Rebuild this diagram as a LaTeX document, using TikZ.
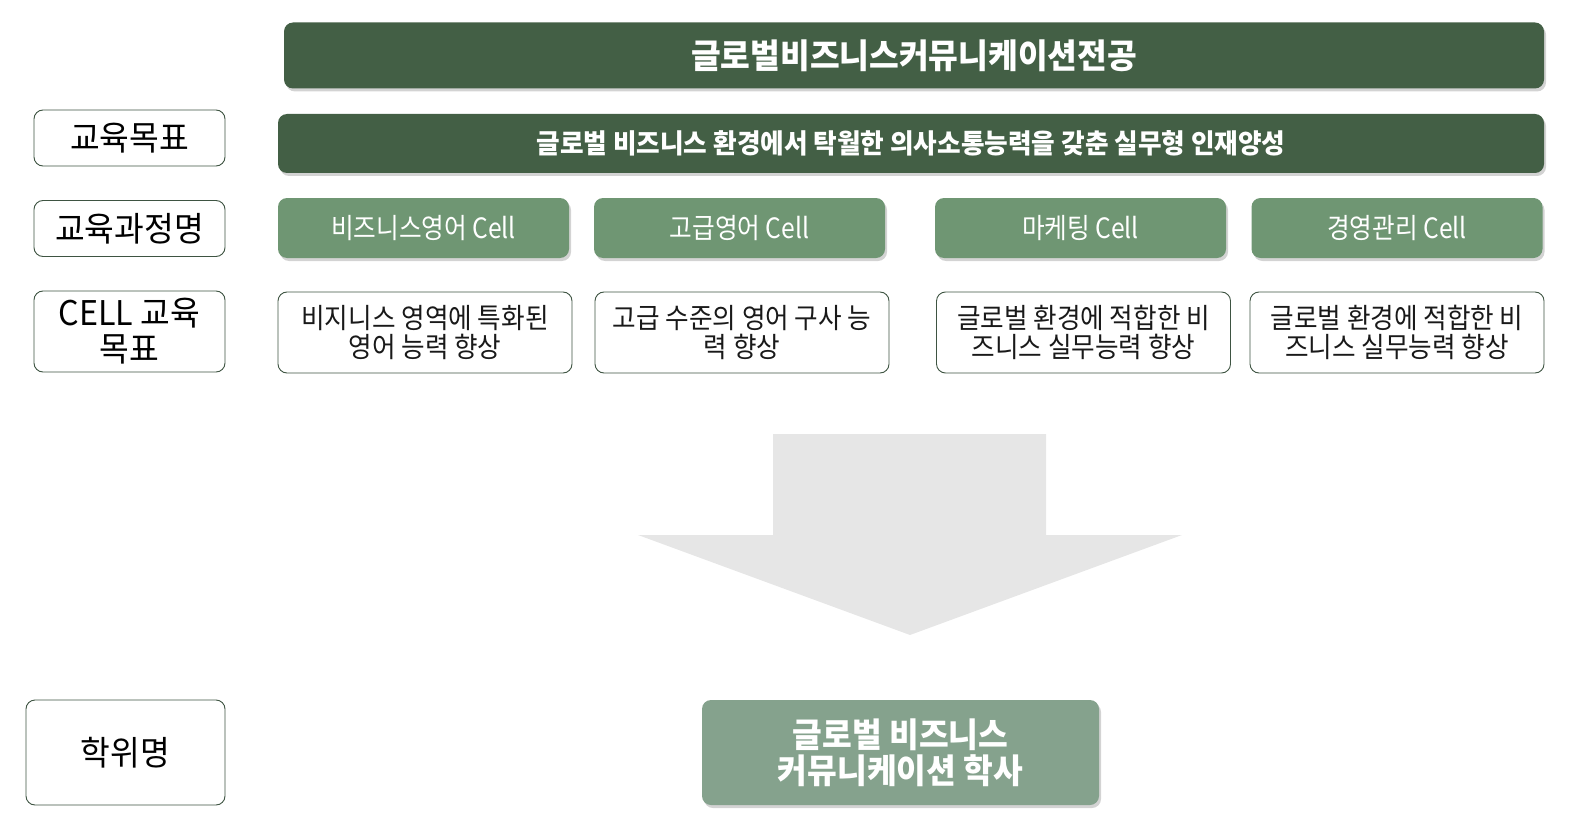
\documentclass[tikz,border=0pt]{standalone}
\usepackage{fontspec}
\newfontfamily\krlab{Noto Sans CJK KR}[FakeStretch=0.95]
\newfontfamily\krcell{Noto Sans CJK KR}[FakeStretch=0.88]
\newfontfamily\krdesc{Noto Sans CJK KR}[FakeStretch=0.915]
\newfontfamily\krb{Noto Sans CJK KR}[FakeStretch=0.95]
\usetikzlibrary{shadows}
\definecolor{darkg}{HTML}{435F45}
\definecolor{cellg}{HTML}{6F9673}
\definecolor{degg}{HTML}{85A28D}
\definecolor{edgeg}{HTML}{3E5442}
\definecolor{arrowg}{HTML}{E6E6E6}
\tikzset{
  base/.style={rounded corners=9pt, inner sep=0pt, align=center},
  shad/.style={drop shadow={shadow xshift=2pt, shadow yshift=-3pt, opacity=0.35}},
  labelbox/.style={base, draw=edgeg, line width=0.9pt, fill=white, text=black,
    minimum width=191pt, font=\krlab\fontsize{34}{36}\selectfont},
  darkbar/.style={base, shad, fill=darkg, text=white},
  cellbox/.style={base, shad, fill=cellg, text=white, minimum width=291pt, minimum height=60pt,
    font=\krcell\fontsize{28}{30}\selectfont},
  descbox/.style={base, draw=edgeg, line width=0.9pt, fill=white, text=black!90,
    minimum width=294pt, minimum height=81pt, font=\krdesc\fontsize{28}{29}\selectfont},
  degbox/.style={base, shad, fill=degg, text=white, minimum width=397pt, minimum height=105pt,
    font=\krb\bfseries\fontsize{34}{36}\selectfont},
}
\begin{document}
\begin{tikzpicture}[x=1pt,y=-1pt]
\useasboundingbox (0,0) rectangle (1591,840);
% block arrow
\fill[arrowg] (773,434) -- (1046,434) -- (1046,535) -- (1182,535) -- (910,635) -- (638,535) -- (773,535) -- cycle;
% title and goal bars
\node[darkbar, minimum width=1260pt, minimum height=66pt, font=\krb\bfseries\fontsize{34}{36}\selectfont] (title) at (914,55.5) {글로벌비즈니스커뮤니케이션전공};
\node[darkbar, minimum width=1266pt, minimum height=59pt, font=\krb\bfseries\fontsize{27}{30}\selectfont] (goal) at (911,143.5) {글로벌 비즈니스 환경에서 탁월한 의사소통능력을 갖춘 실무형 인재양성};
% left labels
\node[labelbox, minimum height=56pt] (l1) at (129.5,138) {교육목표};
\node[labelbox, minimum height=56pt] (l2) at (129.5,228.5) {교육과정명};
\node[labelbox, minimum height=81pt] (l3) at (129.5,331.5) {CELL 교육\\목표};
\node[labelbox, minimum width=199pt, minimum height=105pt] (l4) at (125.5,752.5) {학위명};
% cells
\node[cellbox] (c1) at (423.5,228) {비즈니스영어 Cell};
\node[cellbox] (c2) at (739.5,228) {고급영어 Cell};
\node[cellbox] (c3) at (1080.5,228) {마케팅 Cell};
\node[cellbox] (c4) at (1397,228) {경영관리 Cell};
% descriptions
\node[descbox] (d1) at (425,332.5) {비지니스 영역에 특화된\\영어 능력 향상};
\node[descbox] (d2) at (742,332.5) {고급 수준의 영어 구사 능\\력 향상};
\node[descbox] (d3) at (1083.5,332.5) {글로벌 환경에 적합한 비\\즈니스 실무능력 향상};
\node[descbox] (d4) at (1397,332.5) {글로벌 환경에 적합한 비\\즈니스 실무능력 향상};
% degree
\node[degbox] (deg) at (900.5,752.5) {글로벌 비즈니스\\커뮤니케이션 학사};
\end{tikzpicture}
\end{document}
